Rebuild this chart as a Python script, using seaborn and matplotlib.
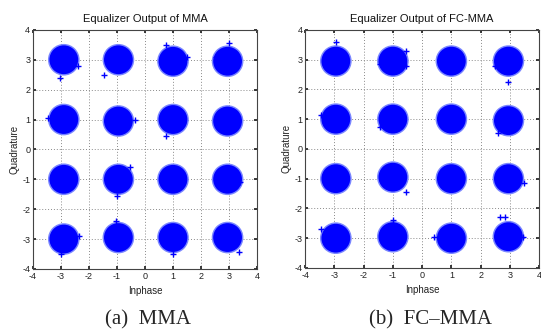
import matplotlib
matplotlib.use("Agg")
import matplotlib.pyplot as plt
import seaborn as sns
import pandas as pd

# ---- data ----
ticks = [-4, -3, -2, -1, 0, 1, 2, 3, 4]
titles = ["Equalizer Output of MMA", "Equalizer Output of FC-MMA"]
captions = ["(a)  MMA", "(b)  FC\u2013MMA"]

# cluster centres (I, Q)
mma_I = [-2.9, -0.95, 1.0, 2.95, -2.9, -0.95, 1.0, 2.95, -2.9, -0.95, 1.0, 2.95, -2.9, -0.95, 1.0, 2.95]
mma_Q = [3.0, 3.0, 2.95, 2.95, 1.0, 0.95, 1.0, 0.95, -1.0, -1.0, -1.0, -1.0, -3.0, -2.95, -2.95, -2.95]
fc_I = [-2.95, -1.0, 1.0, 2.95, -2.95, -1.0, 1.0, 2.95, -2.95, -1.0, 1.0, 2.95, -2.95, -1.0, 1.0, 2.95]
fc_Q = [2.95, 2.95, 2.95, 2.95, 1.0, 1.0, 1.0, 0.95, -1.0, -0.95, -1.0, -1.0, -3.0, -2.95, -3.0, -2.95]

# stray points visible at the edges of the clouds
mma_out_I = [-3.05, -2.4, -1.45, 0.75, 1.5, 3.0, 2.55, -3.45, -0.35, 0.75, -2.35, -1.05, 3.35, -1.0, -3.0, 1.0, -0.55, 3.4]
mma_out_Q = [2.4, 2.8, 2.5, 3.5, 3.1, 3.55, 3.1, 1.05, 1.0, 0.45, -2.9, -2.4, -3.45, -1.55, -3.5, -3.5, -0.6, -1.1]
fc_out_I = [-2.95, -1.45, -0.55, 2.5, 2.95, -1.45, 2.6, -0.55, 3.5, -3.45, -1.0, 0.4, 2.65, 3.45, 2.85, -0.55, -3.45]
fc_out_Q = [3.6, 2.85, 2.8, 2.8, 2.25, 0.75, 0.55, -1.45, -1.15, -2.7, -2.4, -2.95, -2.3, -2.95, -2.3, 3.3, 1.15]

panels = [
    (mma_I, mma_Q, mma_out_I, mma_out_Q),
    (fc_I, fc_Q, fc_out_I, fc_out_Q),
]

sns.set_theme(style="white")
plt.rcParams['font.family'] = ['Liberation Sans Narrow', 'Liberation Sans', 'DejaVu Sans']
plt.rcParams['axes.unicode_minus'] = False

fig = plt.figure(figsize=(5.41, 3.32), dpi=100)
rects = [[0.061, 0.19, 0.414, 0.72], [0.564, 0.193, 0.4325, 0.717]]

for k, (cI, cQ, oI, oQ) in enumerate(panels):
    ax = fig.add_axes(rects[k])
    ax.set_axisbelow(True)
    df = pd.DataFrame({"I": cI, "Q": cQ})
    do = pd.DataFrame({"I": oI, "Q": oQ})
    sns.scatterplot(data=df, x="I", y="Q", ax=ax, s=520, color="#7a86ff",
                    edgecolor="none", marker="o", legend=False, zorder=3)
    sns.scatterplot(data=df, x="I", y="Q", ax=ax, s=430, color="#0000ff",
                    edgecolor="none", marker="o", legend=False, zorder=4)
    sns.scatterplot(data=do, x="I", y="Q", ax=ax, s=20, color="#0000ff",
                    marker="+", linewidth=1.0, legend=False, zorder=4)
    ax.set_xlim(-4, 4)
    ax.set_ylim(-4, 4)
    ax.set_xticks(ticks)
    ax.set_yticks(ticks)
    ax.tick_params(direction="in", length=2.5, labelsize=6.5, pad=2,
                   colors="#222222", bottom=True, left=True, top=True, right=True,
                   labeltop=False, labelright=False)
    ax.grid(True, linestyle=(0, (1, 2)), color="#8a8a8a", linewidth=0.7)
    for sp in ax.spines.values():
        sp.set_color("#444444")
        sp.set_linewidth(0.8)
    ax.set_title(titles[k], fontsize=8, pad=6, color="#111111")
    ax.set_xlabel("Inphase", fontsize=7, labelpad=4, color="#222222")
    ax.set_ylabel("Quadrature", fontsize=7, labelpad=2, color="#222222")

fig.text(0.273, 0.008, captions[0], ha="center", va="bottom", fontsize=15,
         family=['Liberation Serif', 'DejaVu Serif'])
fig.text(0.795, 0.008, captions[1], ha="center", va="bottom", fontsize=15,
         family=['Liberation Serif', 'DejaVu Serif'])

fig.savefig("out.png", dpi=100)
